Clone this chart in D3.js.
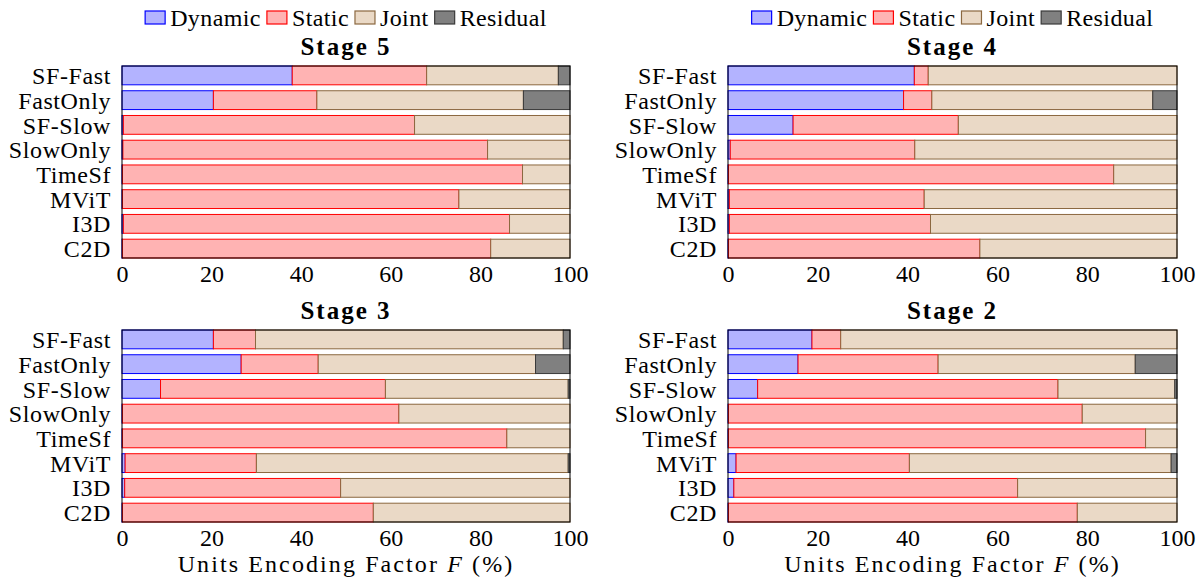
<!DOCTYPE html>
<html>
<head>
<meta charset="utf-8">
<script src="https://cdn.jsdelivr.net/npm/d3@7"></script>
<style>
  html, body { margin: 0; padding: 0; background: #fff; }
  svg text { font-family: "Liberation Serif", "Times New Roman", serif; fill: #000; }
</style>
</head>
<body>
<svg id="chart" width="1203" height="577"></svg>
<script>
// Model names, top to bottom
const categories = ["SF-Fast", "FastOnly", "SF-Slow", "SlowOnly", "TimeSf", "MViT", "I3D", "C2D"];
const factorNames = ["Dynamic", "Static", "Joint", "Residual"];
const xTicks = [0, 20, 40, 60, 80, 100];
const xLabel = "Units Encoding Factor ";

// Stage 5 (%)
const dynamic5  = [38.0, 20.4, 0.3, 0.2, 0.1, 0.1, 0.3, 0.1];
const static5   = [30.0, 23.1, 65.0, 81.4, 89.3, 75.1, 86.2, 82.2];
const joint5    = [29.4, 46.1, 34.7, 18.4, 10.6, 24.8, 13.5, 17.7];
const residual5 = [2.6, 10.4, 0, 0, 0, 0, 0, 0];

// Stage 4 (%)
const dynamic4  = [41.5, 39.1, 14.5, 0.5, 0.1, 0.3, 0.3, 0.1];
const static4   = [3.1, 6.3, 36.8, 41.1, 85.8, 43.4, 44.8, 56.0];
const joint4    = [55.4, 49.2, 48.7, 58.4, 14.1, 56.3, 54.9, 43.9];
const residual4 = [0, 5.4, 0, 0, 0, 0, 0, 0];

// Stage 3 (%)
const dynamic3  = [20.4, 26.6, 8.6, 0.1, 0.1, 0.7, 0.6, 0.1];
const static3   = [9.4, 17.2, 50.2, 61.7, 85.8, 29.3, 48.2, 56.0];
const joint3    = [68.7, 48.5, 40.8, 38.2, 14.1, 69.6, 51.2, 43.9];
const residual3 = [1.5, 7.7, 0.4, 0, 0, 0.4, 0, 0];

// Stage 2 (%)
const dynamic2  = [18.7, 15.6, 6.6, 0.1, 0.1, 1.8, 1.3, 0.1];
const static2   = [6.4, 31.2, 66.9, 78.8, 92.9, 38.6, 63.2, 77.7];
const joint2    = [74.9, 43.9, 26.0, 21.1, 7.0, 58.3, 35.5, 22.2];
const residual2 = [0, 9.3, 0.5, 0, 0, 1.3, 0, 0];

const panels = [
  { title: "Stage 5", series: [dynamic5, static5, joint5, residual5], col: 0, row: 0 },
  { title: "Stage 4", series: [dynamic4, static4, joint4, residual4], col: 1, row: 0 },
  { title: "Stage 3", series: [dynamic3, static3, joint3, residual3], col: 0, row: 1 },
  { title: "Stage 2", series: [dynamic2, static2, joint2, residual2], col: 1, row: 1 }
];

const fills   = ["#b3b3ff", "#ffb3b3", "#ead9c6", "#808080"];
const strokes = ["#0000ff", "#ff0000", "#8b6840", "#3a3a3a"];

const colX = [[122, 570], [728, 1177]];
const rowY = [[66, 258], [330, 522]];

const svg = d3.select("#chart");

panels.forEach(p => {
  const [x0, x1] = colX[p.col];
  const [y0, y1] = rowY[p.row];
  const g = svg.append("g");

  const x = d3.scaleLinear().domain([0, 100]).range([x0, x1]);
  const y = d3.scaleBand().domain(categories).range([y0, y1])
    .paddingInner(0.24).paddingOuter(0);

  // stacked segments
  const rows = categories.map((c, i) => {
    let acc = 0;
    return p.series.map((s, k) => {
      const seg = { cat: c, k, start: acc, end: acc + s[i], v: s[i] };
      acc += s[i];
      return seg;
    });
  }).flat().filter(d => d.v > 0);

  g.selectAll("rect.seg").data(rows).join("rect")
    .attr("class", "seg")
    .attr("x", d => x(d.start))
    .attr("y", d => y(d.cat))
    .attr("width", d => x(d.end) - x(d.start))
    .attr("height", y.bandwidth())
    .attr("fill", d => fills[d.k])
    .attr("stroke", d => strokes[d.k])
    .attr("stroke-width", 1);

  // axis frame
  g.append("rect")
    .attr("x", x0).attr("y", y0)
    .attr("width", x1 - x0).attr("height", y1 - y0)
    .attr("fill", "none").attr("stroke", "#000").attr("stroke-width", 1);

  // category labels
  g.selectAll("text.cat").data(categories).join("text")
    .attr("class", "cat")
    .attr("x", x0 - 11)
    .attr("y", d => y(d) + y.bandwidth() / 2)
    .attr("dy", "0.36em")
    .attr("text-anchor", "end")
    .attr("font-size", 24)
    .attr("letter-spacing", 0.6)
    .text(d => d);

  // x tick labels
  const xAxis = d3.axisBottom(x).tickValues(xTicks).tickSize(0).tickPadding(0);
  const ax = g.append("g").attr("transform", `translate(0,${y1})`).call(xAxis);
  ax.select(".domain").remove();
  ax.selectAll("text")
    .attr("font-size", 24)
    .attr("fill", "#000")
    .attr("dy", null)
    .attr("y", 24);

  // panel title
  g.append("text")
    .attr("x", (x0 + x1) / 2)
    .attr("y", y0 - 11)
    .attr("text-anchor", "middle")
    .attr("font-size", 25)
    .attr("font-weight", "bold")
    .attr("letter-spacing", 2)
    .text(p.title);

  // legend above top panels
  if (p.row === 0) {
    const lg = g.append("g");
    let cx = 0;
    factorNames.forEach((name, k) => {
      const item = lg.append("g").attr("transform", `translate(${cx},0)`);
      item.append("rect")
        .attr("x", 0).attr("y", 11).attr("width", 20).attr("height", 13)
        .attr("fill", fills[k]).attr("stroke", strokes[k]).attr("stroke-width", 1.2);
      const t = item.append("text")
        .attr("x", 25).attr("y", 26)
        .attr("font-size", 24)
        .attr("letter-spacing", 0.4)
        .text(name);
      cx += 25 + t.node().getComputedTextLength() + 6;
    });
    const w = cx - 6;
    lg.attr("transform", `translate(${(x0 + x1) / 2 - w / 2},0)`);
  }

  // x axis title below bottom panels
  if (p.row === 1) {
    const t = g.append("text")
      .attr("x", (x0 + x1) / 2)
      .attr("y", 572)
      .attr("text-anchor", "middle")
      .attr("font-size", 24)
      .attr("letter-spacing", 2.1);
    t.append("tspan").text(xLabel);
    t.append("tspan").attr("font-style", "italic").text("F");
    t.append("tspan").text(" (%)");
  }
});
</script>
</body>
</html>
